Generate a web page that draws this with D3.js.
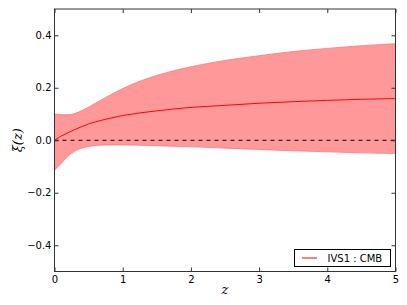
<!DOCTYPE html>
<html><head><meta charset="utf-8">
<script src="https://cdn.jsdelivr.net/npm/d3@7"></script>
<style>body{margin:0;background:#fff}svg{display:block}text{font-family:"DejaVu Sans",sans-serif}</style>
</head><body><svg id="c" width="407" height="305"></svg>
<script>
const zValues = [0, 0.1, 0.2, 0.3, 0.4, 0.5, 0.6, 0.8, 1.0, 1.25, 1.5, 1.75, 2, 2.5, 3, 3.5, 4, 4.5, 5];
const xiMean  = [0, 0.016, 0.029, 0.041, 0.052, 0.062, 0.070, 0.083, 0.094, 0.104, 0.112, 0.119, 0.125, 0.133, 0.141, 0.147, 0.152, 0.156, 0.159];
const xiUpper = [0.100, 0.098, 0.097, 0.102, 0.113, 0.126, 0.141, 0.170, 0.197, 0.225, 0.247, 0.265, 0.280, 0.304, 0.322, 0.338, 0.350, 0.360, 0.368];
const xiLower = [-0.115, -0.088, -0.060, -0.041, -0.030, -0.024, -0.020, -0.018, -0.018, -0.019, -0.021, -0.023, -0.025, -0.030, -0.035, -0.040, -0.044, -0.048, -0.051];
const xTicks = [0, 1, 2, 3, 4, 5];
const yTicks = [-0.4, -0.2, 0.0, 0.2, 0.4];
const legendLabel = "IVS1 : CMB";

const svg = d3.select("#c");
const L = 54.5, R = 395.5, T = 9, B = 271.5;
const x = d3.scaleLinear().domain([0, 5]).range([L, R]);
const y = d3.scaleLinear().domain([-0.5, 0.5]).range([B, T]);
const data = zValues.map((z, i) => ({z, m: xiMean[i], u: xiUpper[i], l: xiLower[i]}));

svg.append("clipPath").attr("id", "pc").append("rect")
  .attr("x", L).attr("y", T).attr("width", R - L).attr("height", B - T);
const g = svg.append("g").attr("clip-path", "url(#pc)");

g.append("path").datum(data)
  .attr("d", d3.area().curve(d3.curveCatmullRom).x(d => x(d.z)).y0(d => y(d.l)).y1(d => y(d.u)))
  .attr("fill", "#ff9999").attr("stroke", "#ff7777").attr("stroke-width", 0.8);

g.append("line").attr("x1", L).attr("x2", R).attr("y1", y(0)).attr("y2", y(0))
  .attr("stroke", "#000").attr("stroke-width", 1).attr("stroke-dasharray", "4,4");

g.append("path").datum(data)
  .attr("d", d3.line().curve(d3.curveCatmullRom).x(d => x(d.z)).y(d => y(d.m)))
  .attr("fill", "none").attr("stroke", "#ff0000").attr("stroke-width", 1);

// axes
const fmtY = d => (d < 0 ? "\u2212" : "") + Math.abs(d).toFixed(1);
const ax = svg.append("g");
ax.append("g").attr("transform", `translate(0,${B})`)
  .call(d3.axisBottom(x).tickValues(xTicks).tickFormat(d3.format("d")).tickSizeInner(-4).tickSizeOuter(0).tickPadding(4));
ax.append("g").attr("transform", `translate(0,${T})`)
  .call(d3.axisTop(x).tickValues(xTicks).tickFormat("").tickSizeInner(-4).tickSizeOuter(0));
ax.append("g").attr("transform", `translate(${L},0)`)
  .call(d3.axisLeft(y).tickValues(yTicks).tickFormat(fmtY).tickSizeInner(-4).tickSizeOuter(0).tickPadding(3));
ax.append("g").attr("transform", `translate(${R},0)`)
  .call(d3.axisRight(y).tickValues(yTicks).tickFormat("").tickSizeInner(-4).tickSizeOuter(0));
ax.selectAll(".domain").remove();
ax.selectAll(".tick line").attr("stroke", "#333");
ax.selectAll(".tick text").attr("font-size", 10).attr("fill", "#000").style("font-family", "DejaVu Sans");

svg.append("rect").attr("x", L).attr("y", T).attr("width", R - L).attr("height", B - T)
  .attr("fill", "none").attr("stroke", "#333").attr("stroke-width", 1);

// labels
svg.append("text").attr("x", (L + R) / 2).attr("y", 294).attr("text-anchor", "middle")
  .attr("font-size", 13).attr("font-style", "italic").style("font-family", "DejaVu Serif").text("z");
svg.append("text").attr("transform", `translate(22,${(T + B) / 2}) rotate(-90)`).attr("text-anchor", "middle")
  .attr("font-size", 13).attr("font-style", "italic").style("font-family", "DejaVu Serif").text("\u03BE(z)");

// legend
const lg = svg.append("g");
lg.append("rect").attr("x", 294.5).attr("y", 249.5).attr("width", 96).attr("height", 17)
  .attr("fill", "#fff").attr("stroke", "#000").attr("stroke-width", 1);
lg.append("line").attr("x1", 302).attr("x2", 317).attr("y1", 258).attr("y2", 258)
  .attr("stroke", "#ff0000").attr("stroke-width", 1);
lg.append("text").attr("x", 327.5).attr("y", 261.5).attr("font-size", 10).text(legendLabel);
</script></body></html>
